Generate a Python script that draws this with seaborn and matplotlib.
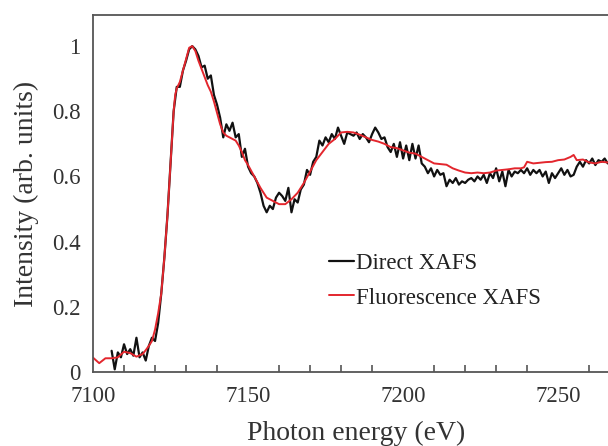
import numpy as np
import pandas as pd
import matplotlib
matplotlib.use("Agg")
import matplotlib.pyplot as plt
import seaborn as sns
from matplotlib.ticker import MultipleLocator

# Photon energy (eV) and intensity for the direct XAFS measurement
direct_energy = list(range(7106, 7267))
direct_intensity = [
    0.065, 0.008, 0.06, 0.045, 0.085, 0.055, 0.07, 0.05, 0.105, 0.045,   # 7106-7115
    0.06, 0.035, 0.08, 0.105, 0.095, 0.15, 0.24, 0.35, 0.48, 0.64,       # 7116-7125
    0.80, 0.875, 0.875, 0.925, 0.955, 0.99, 1.0, 0.99, 0.97, 0.935,      # 7126-7135
    0.94, 0.90, 0.91, 0.85, 0.82, 0.78, 0.72, 0.76, 0.74, 0.765,         # 7136-7145
    0.72, 0.73, 0.66, 0.685, 0.63, 0.61, 0.60, 0.58, 0.55, 0.51,         # 7146-7155
    0.49, 0.51, 0.50, 0.535, 0.55, 0.54, 0.525, 0.565, 0.49, 0.53,       # 7156-7165
    0.52, 0.56, 0.575, 0.62, 0.605, 0.645, 0.66, 0.71, 0.695, 0.72,      # 7166-7175
    0.705, 0.73, 0.715, 0.75, 0.725, 0.70, 0.735, 0.73, 0.725, 0.735,    # 7176-7185
    0.715, 0.73, 0.72, 0.705, 0.73, 0.75, 0.735, 0.715, 0.72, 0.69,      # 7186-7195
    0.675, 0.70, 0.66, 0.705, 0.655, 0.695, 0.65, 0.70, 0.655, 0.695,    # 7196-7205
    0.64, 0.63, 0.61, 0.625, 0.60, 0.62, 0.605, 0.61, 0.57, 0.59,        # 7206-7215
    0.58, 0.595, 0.575, 0.585, 0.58, 0.59, 0.595, 0.585, 0.60, 0.59,     # 7216-7225
    0.605, 0.58, 0.61, 0.595, 0.625, 0.585, 0.615, 0.57, 0.62, 0.60,     # 7226-7235
    0.615, 0.61, 0.62, 0.61, 0.625, 0.605, 0.62, 0.61, 0.62, 0.60,       # 7236-7245
    0.615, 0.58, 0.61, 0.595, 0.61, 0.625, 0.605, 0.62, 0.60, 0.605,     # 7246-7255
    0.63, 0.645, 0.63, 0.65, 0.64, 0.655, 0.635, 0.65, 0.645, 0.655,     # 7256-7265
    0.64,                                                                # 7266
]

# Photon energy (eV) and intensity for the fluorescence XAFS measurement
fluor_energy = [
    7100, 7102, 7104, 7106, 7108, 7110, 7112, 7114, 7116, 7117, 7118, 7119,
    7120, 7121, 7122, 7123, 7124, 7125, 7126, 7126.5, 7127, 7128, 7129, 7130,
    7131, 7132, 7133, 7134, 7135, 7136, 7137, 7138, 7139, 7140, 7141, 7142,
    7143, 7144, 7145, 7146, 7147, 7148, 7149, 7150, 7152, 7154, 7156, 7158,
    7160, 7162, 7164, 7166, 7168, 7170, 7172, 7174, 7176, 7178, 7180, 7182,
    7184, 7186, 7188, 7190, 7192, 7194, 7196, 7198, 7200, 7202, 7204, 7206,
    7208, 7210, 7212, 7214, 7216, 7218, 7220, 7222, 7224, 7226, 7228, 7230,
    7232, 7234, 7236, 7238, 7239, 7240, 7242, 7244, 7246, 7248, 7250, 7252,
    7254, 7255, 7256, 7258, 7260, 7262, 7264, 7266,
]
fluor_intensity = [
    0.044, 0.027, 0.042, 0.042, 0.045, 0.062, 0.058, 0.047, 0.055, 0.067, 0.08, 0.095,
    0.13, 0.18, 0.24, 0.35, 0.48, 0.64, 0.80, 0.85, 0.87, 0.89, 0.925, 0.96,
    0.995, 1.0, 0.985, 0.955, 0.93, 0.905, 0.88, 0.86, 0.83, 0.795, 0.76, 0.735,
    0.725, 0.72, 0.715, 0.71, 0.695, 0.675, 0.65, 0.635, 0.60, 0.565, 0.535, 0.525,
    0.515, 0.515, 0.53, 0.55, 0.58, 0.615, 0.65, 0.675, 0.70, 0.715, 0.735, 0.737,
    0.735, 0.728, 0.72, 0.712, 0.707, 0.70, 0.69, 0.687, 0.68, 0.673, 0.67, 0.66,
    0.65, 0.64, 0.638, 0.636, 0.625, 0.618, 0.612, 0.61, 0.612, 0.61, 0.612, 0.618,
    0.62, 0.622, 0.625, 0.625, 0.628, 0.645, 0.64, 0.642, 0.644, 0.645, 0.65, 0.652,
    0.66, 0.666, 0.65, 0.652, 0.643, 0.64, 0.645, 0.643,
]

x_ticks = [7100, 7150, 7200, 7250]
y_ticks = [0, 0.2, 0.4, 0.6, 0.8, 1]
y_tick_labels = ["0", "0.2", "0.4", "0.6", "0.8", "1"]

direct_df = pd.DataFrame({"energy": direct_energy, "intensity": direct_intensity})
fluor_df = pd.DataFrame({"energy": fluor_energy, "intensity": fluor_intensity})

sns.set_theme(style="white")
plt.rcParams["font.family"] = ["Liberation Serif", "DejaVu Serif"]

fig = plt.figure(figsize=(6.08, 4.46), dpi=100)
ax = fig.add_axes([0.153, 0.166, 0.867, 0.800])

sns.lineplot(data=direct_df, x="energy", y="intensity", ax=ax, sort=False,
             color="#111111", linewidth=1.6, label="Direct XAFS")
sns.lineplot(data=fluor_df, x="energy", y="intensity", ax=ax, sort=False,
             color="#e3262d", linewidth=1.4, label="Fluorescence XAFS")

ax.set_xlim(7100, 7270)
ax.set_ylim(0, 1.095)
ax.set_xticks(x_ticks)
ax.set_xticklabels([str(t) for t in x_ticks])
ax.set_yticks(y_ticks)
ax.set_yticklabels(y_tick_labels)
ax.xaxis.set_minor_locator(MultipleLocator(10))

spine_col = "#555555"
for s in ax.spines.values():
    s.set_color(spine_col)
    s.set_linewidth(1.3)
ax.spines["right"].set_visible(False)

ax.tick_params(axis="x", which="major", direction="out", length=5, width=1.2,
               color=spine_col, labelsize=16.5, labelcolor="#333333", pad=5)
ax.tick_params(axis="x", which="minor", direction="in", length=5, width=1.2,
               color=spine_col, bottom=True)
ax.tick_params(axis="y", which="major", direction="out", length=5, width=1.2,
               color=spine_col, labelsize=16.5, labelcolor="#333333", pad=4)

ax.set_xlabel("Photon energy (eV)", fontsize=20, color="#333333", labelpad=10)
ax.set_ylabel("Intensity (arb. units)", fontsize=20, color="#333333", labelpad=9)

leg = ax.legend(loc="upper left", bbox_to_anchor=(0.43, 0.36), frameon=False,
                fontsize=16.5, handlelength=1.1, handletextpad=0.1,
                labelspacing=0.6, borderaxespad=0)
for t in leg.get_texts():
    t.set_color("#222222")

fig.savefig("out.png", dpi=100)
